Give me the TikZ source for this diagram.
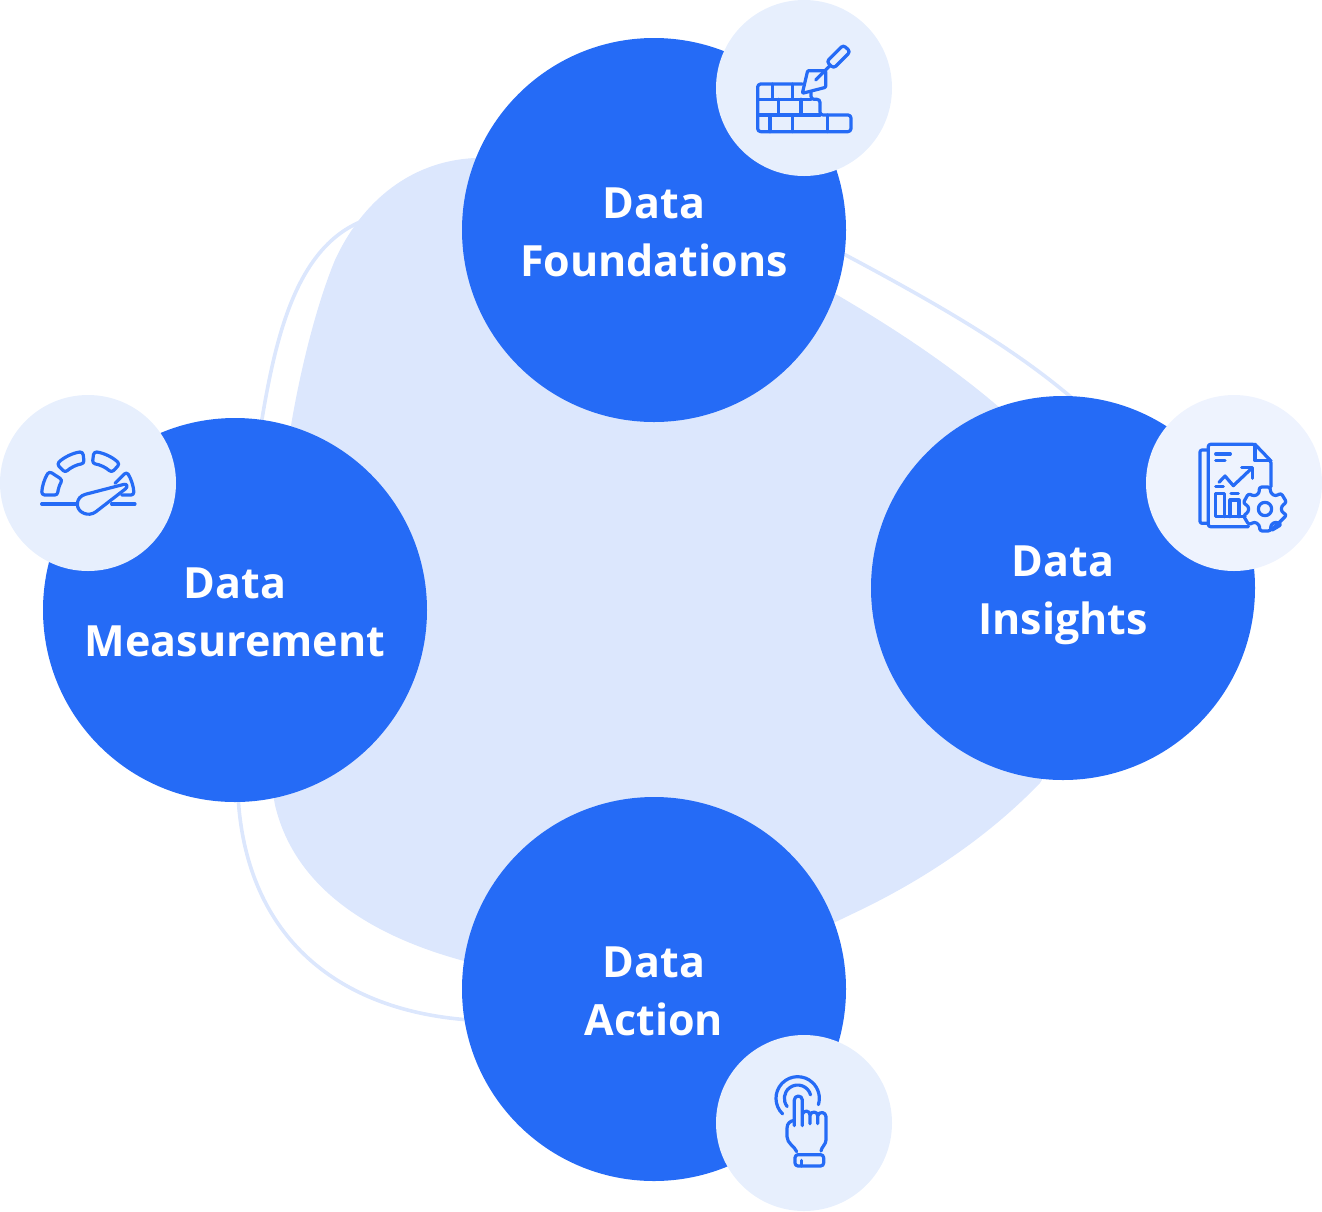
\documentclass[tikz,border=0pt]{standalone}
\usepackage{fontspec}
\setmainfont{Open Sans}[BoldFont={Open Sans Bold}]
\definecolor{mainblue}{HTML}{256BF6}
\definecolor{blobblue}{HTML}{DCE7FD}
\definecolor{badge}{HTML}{E7EFFD}
\definecolor{badgeb}{HTML}{EEF3FE}
\begin{document}
\begin{tikzpicture}[x=1pt,y=-1pt,
  bigcircle/.style={circle,fill=mainblue,draw=none,minimum size=384pt,inner sep=0pt},
  badgecircle/.style={circle,fill=badge,draw=none,minimum size=176pt,inner sep=0pt},
  label/.style={text=white,align=center,font=\fontsize{43}{58}\selectfont\bfseries},
  thinline/.style={draw=blobblue,line width=3.6pt},
  icon/.style={draw=mainblue,line width=3.2pt,line cap=round,line join=round,fill=none},
  zoomed/.style={x=0.3333pt,y=-0.3333pt}]
\useasboundingbox (0,0) rectangle (1322,1211);
\coordinate (l1a) at (360,222); \coordinate (l1b) at (261,425);
\coordinate (l2a) at (840,252); \coordinate (l2b) at (1072,398);
\coordinate (l3a) at (238,795); \coordinate (l3b) at (470,1020);
\draw[thinline] (l1a) .. controls (295,250) and (275,340) .. (l1b);
\draw[thinline] (l2a) .. controls (930,300) and (1010,345) .. (l2b);
\draw[thinline] (l3a) .. controls (245,930) and (330,1010) .. (l3b);
\fill[blobblue] (490,158) .. controls (420,155) and (365,195) .. (335,260)
  .. controls (310,320) and (285,430) .. (280,520)
  .. controls (275,620) and (262,740) .. (275,805)
  .. controls (295,890) and (375,940) .. (480,965)
  .. controls (620,985) and (760,960) .. (850,915)
  .. controls (925,880) and (990,835) .. (1040,783)
  .. controls (1120,650) and (1080,480) .. (1000,408)
  .. controls (950,365) and (890,325) .. (820,285) -- cycle;
\node[bigcircle] (found) at (654,230) {};
\node[bigcircle] (insight) at (1063,588) {};
\node[bigcircle] (measure) at (235,610) {};
\node[bigcircle] (action) at (654,989) {};
\node[label] (t1) at (654,232) {Data\\Foundations};
\node[label] (t2) at (1063,595) {Data\\Insights};
\node[label] (t3) at (235,612) {Data\\Measurement};
\node[label] (t4) at (654,991) {Data\\Action};
\node[badgecircle] (b1) at (804,88) {};
\node[badgecircle,fill=badgeb] (b2) at (1234,483) {};
\node[badgecircle] (b3) at (88,483) {};
\node[badgecircle] (b4) at (804,1123) {};
% wall and trowel
\begin{scope}[shift={(715,0)},zoomed]
\draw[icon,rounded corners=3pt] (262,252) -- (128,252) -- (128,395) -- (408,395) -- (408,345) -- (315,345) -- (315,298) -- (288,298) -- (288,275);
\draw[icon] (128,298) -- (288,298) (128,345) -- (315,345);
\draw[icon] (172,252) -- (172,298) (232,252) -- (232,298);
\draw[icon] (190,298) -- (190,345) (258,298) -- (258,345);
\draw[icon] (165,345) -- (165,395) (232,345) -- (232,395) (338,345) -- (338,395);
\draw[icon,rounded corners=1pt] (278,212) -- (332,212) -- (332,262) -- (262,280) -- cycle;
\draw[icon] (302,240) -- (345,197);
\draw[icon,rounded corners=3pt] (335,185) -- (385,135) -- (406,155) -- (356,205) -- cycle;
\end{scope}
% report and gear
\begin{scope}[shift={(1145,395)},zoomed]
\draw[icon,rounded corners=2pt] (310,395) -- (190,395) -- (190,148) -- (330,148) -- (378,198) -- (378,275);
\draw[icon] (330,148) -- (330,197) -- (378,197);
\draw[icon,rounded corners=2pt] (190,165) -- (165,165) -- (165,385) -- (190,385);
\draw[icon] (212,177) -- (256,177) (212,197) -- (240,197);
\draw[icon] (222,262) -- (240,243) -- (265,272) -- (320,220);
\draw[icon] (290,218) -- (322,218) -- (322,250);
\draw[icon] (212,275) -- (235,275) (258,295) -- (280,295);
\draw[icon] (300,365) -- (212,365) -- (212,295) -- (238,295) -- (238,365);
\draw[icon] (255,365) -- (255,315) -- (282,315) -- (282,365);
\draw[icon,rounded corners=2.5pt,shift={(360,342)}] (75:68)
  \foreach \a in {30,-30,-90,-150,-210,-270}{ -- ({\a-15}:68) -- ({\a-20}:50) -- ({\a-40}:50) -- ({\a-47}:68) } -- cycle;
\draw[icon] (360,342) circle[radius=20];
\end{scope}
% gauge
\begin{scope}[shift={(0,395)},zoomed]
\draw[icon] (125,327) -- (230,327) (335,327) -- (405,327);
\begin{scope}[shift={(265,305)}]
\draw[icon,rounded corners=3pt] (182:140) arc[start angle=182,end angle=213,radius=140] -- (213:92) arc[start angle=213,end angle=183,radius=92] -- cycle;
\draw[icon,rounded corners=3pt] (226:136) arc[start angle=226,end angle=263,radius=136] -- (263:100) arc[start angle=263,end angle=226,radius=100] -- cycle;
\draw[icon,rounded corners=3pt] (277:136) arc[start angle=277,end angle=314,radius=136] -- (314:100) arc[start angle=314,end angle=277,radius=100] -- cycle;
\draw[icon,rounded corners=3pt] (80,-40) -- (327:137) arc[start angle=327,end angle=358,radius=137] -- (100,-5);
\end{scope}
\draw[icon,fill=badge] (256,298) -- (372,268) .. controls (382,266) and (384,276) .. (376,282) -- (288,350) .. controls (265,368) and (232,352) .. (232,328) .. controls (232,312) and (242,302) .. (256,298) -- cycle;
\end{scope}
% hand
\begin{scope}[shift={(715,1035)},zoomed]
\draw[icon] ([shift={(134:65)}]248,190) arc[start angle=134,end angle=377,radius=65];
\draw[icon] ([shift={(142:40)}]248,190) arc[start angle=142,end angle=345,radius=40];
\draw[icon] (238,272) -- (238,195) arc[start angle=180,end angle=360,radius=12] -- (262,272);
\draw[icon] (262,238) .. controls (265,225) and (285,225) .. (285,240) -- (285,266);
\draw[icon] (285,240) .. controls (288,228) and (308,228) .. (308,242) -- (308,266);
\draw[icon] (308,242) .. controls (312,228) and (333,230) .. (333,245) -- (333,315) .. controls (333,328) and (320,335) .. (318,348);
\draw[icon] (238,256) .. controls (225,258) and (216,265) .. (216,280) -- (216,305) .. controls (216,325) and (240,335) .. (245,350);
\draw[icon,rounded corners=3pt] (240,359) rectangle (326,393);
\draw[icon] (260,376) -- (260,393);
\end{scope}
\end{tikzpicture}
\end{document}
